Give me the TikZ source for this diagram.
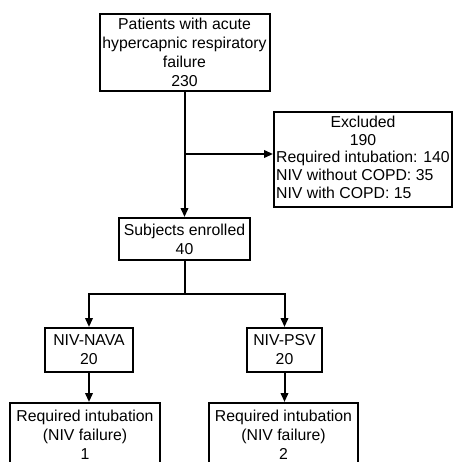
\documentclass[tikz,border=0pt]{standalone}
\usepackage{fontspec}
\setmainfont{Liberation Sans}
\usepackage{tikz}
\usetikzlibrary{arrows.meta}

\tikzset{
    box/.style={draw, line width=2pt, inner sep=0pt, align=center,
        font=\fontsize{15.8}{19}\selectfont},
    arr/.style={line width=2pt, -{Triangle[length=9pt,width=7.5pt]}},
    lin/.style={line width=2pt}
}

\begin{document}
\begin{tikzpicture}[x=1pt, y=-1pt]

    \clip[use as bounding box] (0,0) rectangle (455,462);

    \node[box, minimum width=170pt, minimum height=77pt] (patients) at (184.5,52.5)
        {Patients with acute\\hypercapnic respiratory\\failure\\230};

    \node[box, minimum width=178pt, minimum height=95pt] (excluded) at (363,159.5)
        {\fontsize{15.8}{17.5}\selectfont
        \begin{tabular}{@{}l@{}}
            \multicolumn{1}{@{}c@{}}{Excluded}\\
            \multicolumn{1}{@{}c@{}}{190}\\
            Required intubation: 140\\
            NIV without COPD: 35\\
            NIV with COPD: 15
        \end{tabular}};

    \node[box, minimum width=131pt, minimum height=42pt] (enrolled) at (184.5,239)
        {Subjects enrolled\\40};

    \node[box, minimum width=88pt, minimum height=44pt] (nava) at (89,350)
        {NIV-NAVA\\20};
    \node[box, minimum width=75pt, minimum height=44pt] (psv) at (284.5,350)
        {NIV-PSV\\20};

    \node[box, minimum width=150pt, minimum height=64pt] (failnava) at (85,435)
        {Required intubation\\(NIV failure)\\1};
    \node[box, minimum width=149pt, minimum height=64pt] (failpsv) at (283.5,435)
        {Required intubation\\(NIV failure)\\2};

    \coordinate (split) at (184.5,154);
    \coordinate (fork) at (184.5,294);

    \draw[arr] (patients) -- (enrolled);
    \draw[arr] (split) -- (split -| excluded.west);

    \draw[lin] (enrolled) -- (fork);
    \draw[arr] (fork) -| (nava.north);
    \draw[arr] (fork) -| (psv.north);

    \draw[arr] (nava) -- (nava.south |- failnava.north);
    \draw[arr] (psv) -- (psv.south |- failpsv.north);

\end{tikzpicture}
\end{document}
